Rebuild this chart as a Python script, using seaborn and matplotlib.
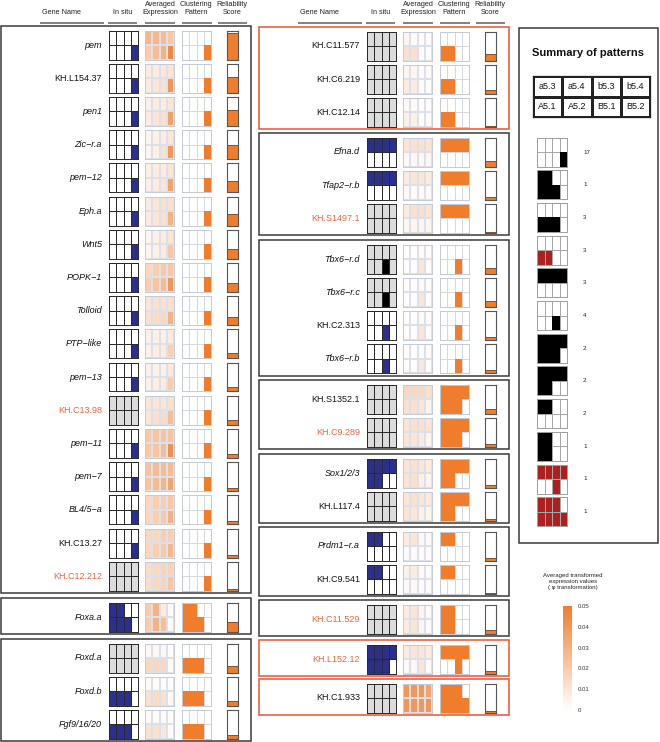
import numpy as np
import matplotlib
matplotlib.use("Agg")
import matplotlib.pyplot as plt
import seaborn as sns
from matplotlib.colors import ListedColormap, LinearSegmentedColormap
from matplotlib.patches import Rectangle

# ---------------- data ----------------
# each grid is 2 rows x 4 cols, written as top row then bottom row
# in situ codes: 0 none, 1 expressed (blue), 2 expressed (black), 3 no data (grey)
left_genes = ["pem", "KH.L154.37", "pen1", "Zic\u2212r.a", "pem\u221212", "Eph.a", "Wnt5",
              "POPK\u22121", "Tolloid", "PTP\u2212like", "pem\u221213", "KH.C13.98", "pem\u221211",
              "pem\u22127", "BL4/5\u2212a", "KH.C13.27", "KH.C12.212",
              "Foxa.a",
              "Foxd.a", "Foxd.b", "Fgf9/16/20"]
left_groups = [17, 1, 3]

left_insitu = [[0, 0, 0, 0, 0, 0, 0, 1]] * 11 + [[3] * 8] + [[0, 0, 0, 0, 0, 0, 0, 1]] * 4 + [[3] * 8] + \
              [[1, 1, 0, 0, 1, 1, 1, 0]] + \
              [[3] * 8, [0, 0, 0, 0, 1, 1, 1, 0], [0, 0, 0, 0, 1, 1, 1, 0]]

left_expr = [
    [.028, .028, .026, .022, .020, .025, .030, .045],
    [.008, .008, .009, .010, .008, .010, .012, .040],
    [.006, .008, .008, .010, .008, .010, .012, .036],
    [.004, .006, .008, .010, .004, .006, .012, .040],
    [.006, .008, .008, .010, .006, .008, .010, .035],
    [.008, .010, .012, .012, .008, .010, .012, .030],
    [.004, .006, .008, .010, .004, .006, .008, .022],
    [.016, .019, .021, .021, .019, .023, .026, .040],
    [.010, .012, .012, .012, .012, .014, .015, .030],
    [.005, .006, .006, .008, .005, .007, .008, .018],
    [.005, .006, .006, .008, .006, .007, .008, .020],
    [.010, .010, .010, .012, .010, .012, .014, .025],
    [.021, .023, .023, .023, .021, .023, .026, .042],
    [.023, .026, .026, .026, .023, .026, .029, .035],
    [.016, .019, .019, .021, .016, .019, .021, .030],
    [.016, .016, .019, .019, .016, .019, .021, .028],
    [.013, .015, .017, .017, .013, .015, .017, .022],
    [.020, .030, .008, .002, .020, .030, .025, .002],
    [.003, .003, .003, .001, .015, .015, .015, .002],
    [.002, .002, .002, .001, .012, .014, .012, .002],
    [.002, .002, .002, .001, .012, .012, .010, .002],
]

left_cluster = [[0, 0, 0, 0, 0, 0, 0, 1]] * 17 + [[1, 1, 0, 0, 1, 1, 1, 0]] + [[0, 0, 0, 0, 1, 1, 1, 0]] * 3

left_score = [0.93, 0.53, 0.55, 0.47, 0.40, 0.40, 0.35, 0.29, 0.29, 0.20, 0.15, 0.17,
              0.15, 0.12, 0.10, 0.08, 0.07, 0.33, 0.23, 0.15, 0.12]

mid_genes = ["KH.C11.577", "KH.C6.219", "KH.C12.14",
             "Efna.d", "Tfap2\u2212r.b", "KH.S1497.1",
             "Tbx6\u2212r.d", "Tbx6\u2212r.c", "KH.C2.313", "Tbx6\u2212r.b",
             "KH.S1352.1", "KH.C9.289",
             "Sox1/2/3", "KH.L117.4",
             "Prdm1\u2212r.a", "KH.C9.541",
             "KH.C11.529", "KH.L152.12", "KH.C1.933"]
mid_groups = [3, 3, 4, 2, 2, 2, 1, 1, 1]
mid_box_red = [True, False, False, False, False, False, False, True, True]

mid_insitu = [
    [3] * 8, [3] * 8, [3] * 8,
    [1, 1, 1, 1, 0, 0, 0, 0], [1, 1, 1, 1, 0, 0, 0, 0], [3] * 8,
    [3, 3, 3, 3, 3, 3, 2, 3], [3, 3, 3, 3, 3, 3, 2, 3],
    [0, 0, 0, 0, 0, 0, 1, 0], [0, 0, 0, 0, 0, 0, 1, 0],
    [3] * 8, [3] * 8,
    [1, 1, 1, 1, 1, 1, 0, 0], [3] * 8,
    [1, 1, 0, 0, 0, 0, 0, 0], [1, 1, 0, 0, 0, 0, 0, 0],
    [3] * 8, [1, 1, 1, 1, 1, 1, 1, 0], [3] * 8,
]

mid_expr = [
    [.004, .002, .001, .001, .012, .012, .001, .001],
    [.004, .004, .002, .001, .008, .008, .002, .001],
    [.002, .002, .001, .001, .006, .006, .001, .001],
    [.010, .012, .012, .010, .003, .003, .003, .003],
    [.008, .010, .010, .008, .002, .002, .002, .002],
    [.008, .012, .012, .010, .004, .004, .004, .004],
    [.001, .001, .002, .001, .001, .001, .010, .001],
    [.001, .001, .002, .001, .001, .001, .010, .001],
    [.001, .001, .002, .001, .001, .001, .010, .001],
    [.001, .001, .002, .001, .001, .001, .009, .001],
    [.015, .015, .015, .012, .012, .012, .010, .004],
    [.010, .012, .012, .010, .010, .010, .008, .004],
    [.010, .012, .010, .008, .010, .012, .006, .004],
    [.010, .012, .010, .008, .010, .010, .006, .004],
    [.008, .010, .003, .002, .002, .002, .002, .001],
    [.006, .008, .002, .001, .002, .002, .001, .001],
    [.008, .010, .004, .002, .008, .010, .004, .002],
    [.008, .010, .010, .008, .002, .003, .010, .002],
    [.040, .040, .040, .035, .040, .040, .040, .040],
]

mid_cluster = [[0, 0, 0, 0, 1, 1, 0, 0]] * 3 + [[1, 1, 1, 1, 0, 0, 0, 0]] * 3 + \
              [[0, 0, 0, 0, 0, 0, 1, 0]] * 4 + [[1, 1, 1, 1, 1, 1, 1, 0]] * 2 + \
              [[1, 1, 1, 1, 1, 1, 0, 0]] * 2 + [[1, 1, 0, 0, 0, 0, 0, 0]] * 2 + \
              [[1, 1, 0, 0, 1, 1, 0, 0], [1, 1, 1, 1, 0, 0, 1, 0], [1, 1, 1, 0, 1, 1, 1, 1]]

mid_score = [0.23, 0.12, 0.04, 0.18, 0.08, 0.03, 0.20, 0.18, 0.10, 0.10,
             0.14, 0.08, 0.10, 0.05, 0.10, 0.04, 0.12, 0.08, 0.04]

orange_names = ["KH.C13.98", "KH.C12.212", "KH.S1497.1", "KH.C9.289",
                "KH.C11.529", "KH.L152.12"]

table_labels = ["a5.3", "a5.4", "b5.3", "b5.4", "A5.1", "A5.2", "B5.1", "B5.2"]

# summary codes: 0 empty, 1 black, 2 red
summary_cells = [
    [0, 0, 0, 0, 0, 0, 0, 1],
    [1, 1, 0, 0, 1, 1, 1, 0],
    [0, 0, 0, 0, 1, 1, 1, 0],
    [0, 0, 0, 0, 2, 2, 0, 0],
    [1, 1, 1, 1, 0, 0, 0, 0],
    [0, 0, 0, 0, 0, 0, 1, 0],
    [1, 1, 1, 1, 1, 1, 1, 0],
    [1, 1, 1, 1, 1, 1, 0, 0],
    [1, 1, 0, 0, 0, 0, 0, 0],
    [1, 1, 0, 0, 1, 1, 0, 0],
    [2, 2, 2, 2, 0, 0, 2, 0],
    [2, 2, 2, 0, 2, 2, 2, 2],
]
summary_counts = [17, 1, 3, 3, 3, 4, 2, 2, 2, 1, 1, 1]

cbar_ticks = [0, 0.01, 0.02, 0.03, 0.04, 0.05]

# ---------------- style ----------------
sns.set_theme(style="white")
plt.rcParams["font.family"] = ["Liberation Sans", "DejaVu Sans"]

ORANGE = "#EF7D2C"
NAVY = "#2B2F8F"
RED_BOX = "#E8623F"
NAME_ORANGE = "#E2673F"
W, H = 660, 742

insitu_cmap = ListedColormap(["white", NAVY, "black", "#DCDCDC"])
cluster_cmap = ListedColormap(["white", ORANGE])
expr_cmap = LinearSegmentedColormap.from_list("expr", ["white", ORANGE])
summary_cmap = ListedColormap(["white", "black", "#AE1F1F"])

fig = plt.figure(figsize=(6.6, 7.42), dpi=100)
bg = fig.add_axes([0, 0, 1, 1])
bg.set_xlim(0, W)
bg.set_ylim(H, 0)
bg.axis("off")


def px_axes(x, y, w, h):
    return fig.add_axes([x / W, 1 - (y + h) / H, w / W, h / H])


def grid(x, y, vals, cmap, vmin, vmax, lc, edge, lw=0.5, size=(29, 29), solid=None):
    ax = px_axes(x, y, size[0], size[1])
    arr = np.array(vals, dtype=float).reshape(2, 4)
    sns.heatmap(arr, ax=ax, cmap=cmap, vmin=vmin, vmax=vmax, cbar=False,
                linewidths=lw, linecolor=lc, xticklabels=False, yticklabels=False)
    if solid is not None:
        # cells with code `solid` are drawn again without lines so blocks look solid
        sns.heatmap(arr, ax=ax, mask=arr != solid, cmap=cmap, vmin=vmin, vmax=vmax,
                    cbar=False, linewidths=0, xticklabels=False, yticklabels=False)
    for sp in ax.spines.values():
        sp.set_visible(True)
        sp.set_color(edge)
        sp.set_linewidth(0.7)
    return ax


def score_bar(x, y, val):
    ax = px_axes(x, y, 11, 29)
    ax.bar([0], [val], width=1.0, color=ORANGE, edgecolor="#6b4426", linewidth=0.6)
    ax.set_xlim(-0.5, 0.5)
    ax.set_ylim(0, 1)
    ax.set_xticks([])
    ax.set_yticks([])
    for sp in ax.spines.values():
        sp.set_visible(True)
        sp.set_color("#555555")
        sp.set_linewidth(0.8)


def header(dx):
    bg.text(dx + 62, 12.5, "Gene Name", ha="center", va="center", fontsize=5.2, color="#222")
    bg.text(dx + 123, 12.5, "In situ", ha="center", va="center", fontsize=5.2, color="#222")
    for cx, lab in [(160, "Averaged\nExpression"), (196, "Clustering\nPattern"),
                    (232, "Reliability\nScore")]:
        bg.text(dx + cx, 8.5, lab, ha="center", va="center", fontsize=5.2,
                color="#222", linespacing=1.15)
    for x0, x1 in [(40, 104), (108, 137), (145, 175), (182, 212), (218, 247)]:
        bg.plot([dx + x0, dx + x1], [22.5, 22.5], color="#777777", lw=1.3,
                solid_capstyle="butt")


def column(dx, genes, groups, tops, insitu, expr, cluster, score, box_red):
    k = 0
    for g, (n, top) in enumerate(zip(groups, tops)):
        last = top + 19 + (n - 1) * 33.2
        ec = RED_BOX if box_red[g] else "#3a3a3a"
        bg.add_patch(Rectangle((dx + 1, top), 250, last + 17 - top, fill=False,
                               ec=ec, lw=1.2 if box_red[g] else 1.1))
        for i in range(n):
            cy = top + 19 + i * 33.2
            name = genes[k]
            italic = not name.startswith("KH.")
            col = NAME_ORANGE if name in orange_names else "#111111"
            bg.text(dx + 102, cy, name, ha="right", va="center", fontsize=6.5,
                    color=col, fontstyle="italic" if italic else "normal")
            grid(dx + 109, cy - 14.5, insitu[k], insitu_cmap, -0.5, 3.5, "#2a2a2a", "#2a2a2a")
            grid(dx + 145, cy - 14.5, expr[k], expr_cmap, 0, 0.05, "#DCE0E8", "#C4CAD6", lw=0.3)
            grid(dx + 182, cy - 14.5, cluster[k], cluster_cmap, -0.5, 1.5, "#D4D9E3", "#C4CAD6",
                 lw=0.4, solid=1)
            score_bar(dx + 227, cy - 14.5, score[k])
            k += 1


header(0)
header(258)
column(0, left_genes, left_groups, [26, 598, 639], left_insitu, left_expr,
       left_cluster, left_score, [False] * 3)
column(258, mid_genes, mid_groups, [27, 133, 240, 380, 454, 527, 600, 640, 679],
       mid_insitu, mid_expr, mid_cluster, mid_score, mid_box_red)

# ---------------- summary panel ----------------
bg.add_patch(Rectangle((519, 28), 139, 515, fill=False, ec="#3a3a3a", lw=1.1))
bg.text(588, 53, "Summary of patterns", ha="center", va="center", fontsize=8,
        fontweight="bold", color="#111")

tax = px_axes(533, 76, 117, 41)
sns.heatmap(np.zeros((2, 4)), ax=tax, cmap=ListedColormap(["white"]), cbar=False,
            annot=np.array(table_labels).reshape(2, 4), fmt="",
            annot_kws={"fontsize": 6.5, "color": "#111"},
            linewidths=0.9, linecolor="#222", xticklabels=False, yticklabels=False)
for sp in tax.spines.values():
    sp.set_visible(True)
    sp.set_color("#222")
    sp.set_linewidth(0.9)

for j, (cells, cnt) in enumerate(zip(summary_cells, summary_counts)):
    cy = 152 + j * 32.7
    grid(537, cy - 14.5, cells, summary_cmap, -0.5, 2.5, "#a8a8a8", "#a0a0a0",
         lw=0.4, size=(30, 29), solid=1)
    bg.text(583, cy, str(cnt), ha="left", va="center", fontsize=4.5, color="#222")

# ---------------- colour scale ----------------
bg.text(573, 582, "Averaged transformed\nexpression values\n( \u03c6 transformation)",
        ha="center", va="center", fontsize=4.3, color="#222", linespacing=1.25)
cax = px_axes(563, 606, 9, 104)
sm = plt.cm.ScalarMappable(cmap=expr_cmap, norm=plt.Normalize(0, 0.05))
cb = fig.colorbar(sm, cax=cax, ticks=cbar_ticks)
cb.ax.set_yticklabels(["0"] + [f"{t:.2f}" for t in cbar_ticks[1:]])
cb.outline.set_visible(False)
cb.ax.tick_params(length=0, labelsize=4.3, colors="#333", pad=4)

fig.savefig("out.png", dpi=100)
